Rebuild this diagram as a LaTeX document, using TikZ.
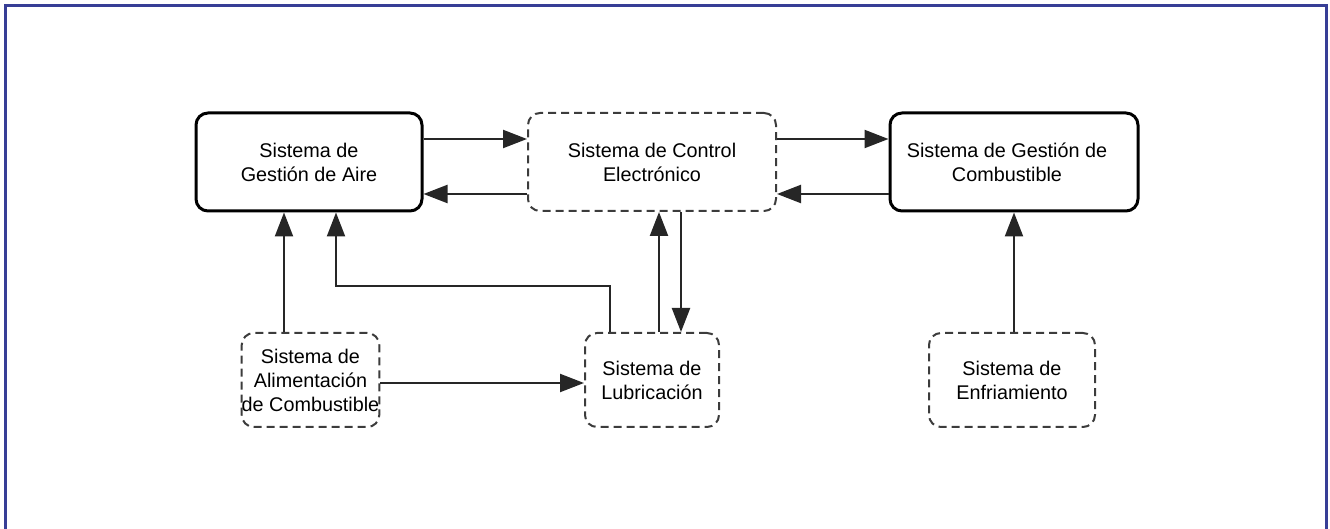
\documentclass[tikz,border=0pt]{standalone}
\usepackage{fontspec}
\setmainfont{Liberation Sans}
\usetikzlibrary{arrows.meta}
\definecolor{frameblue}{RGB}{55,62,150}
\definecolor{dashgray}{RGB}{60,60,60}
\begin{document}
\begin{tikzpicture}[x=0.5pt,y=-0.5pt,
  boxtext/.style={align=center,inner sep=0pt,font=\fontsize{9.9}{12}\selectfont},
  solidbox/.style={boxtext,draw=black,line width=1.5pt,rounded corners=6pt},
  dashbox/.style={boxtext,draw=dashgray,line width=1pt,dash pattern=on 4pt off 2.5pt,rounded corners=6pt},
  arr/.style={draw=black!85,line width=1.1pt,-{Triangle[length=12pt,width=9pt]}}]
\useasboundingbox (0,0) rectangle (1330,529);
\draw[frameblue,line width=1.5pt] (5.5,529) -- (5.5,6) -- (1326,6) -- (1326,529);

\node[solidbox,minimum width=113pt,minimum height=49pt] (aire) at (309,162) {Sistema de\\Gestión de Aire};
\node[dashbox,minimum width=124pt,minimum height=49pt] (ctrl) at (652,162) {Sistema de Control\\Electrónico};
\node[solidbox,minimum width=124pt,minimum height=49pt] (comb) at (1014,162) {Sistema de Gestión de\hspace*{7pt}\\Combustible\hspace*{7pt}};
\node[dashbox,minimum width=67.5pt,minimum height=47pt] (alim) at (310.5,380) {Sistema de\\Alimentación\\de Combustible};
\node[dashbox,minimum width=67pt,minimum height=47pt] (lub) at (652,380) {Sistema de\\Lubricación};
\node[dashbox,minimum width=83pt,minimum height=47pt] (enfr) at (1012,380) {Sistema de\\Enfriamiento};

\coordinate (ya) at (0,139);
\coordinate (yb) at (0,194);
\coordinate (yc) at (0,383);
\coordinate (xa) at (284,0);
\coordinate (xb) at (659,0);
\coordinate (xc) at (681,0);
\coordinate (xd) at (1014,0);
\coordinate (bend1) at (610,286);
\coordinate (bend2) at (336,286);

\draw[arr] (aire.east |- ya) -- (ctrl.west |- ya);
\draw[arr] (ctrl.west |- yb) -- (aire.east |- yb);
\draw[arr] (ctrl.east |- ya) -- (comb.west |- ya);
\draw[arr] (comb.west |- yb) -- (ctrl.east |- yb);
\draw[arr] (xa |- alim.north) -- (xa |- aire.south);
\draw[arr] (bend1 |- lub.north) -- (bend1) -- (bend2) -- (bend2 |- aire.south);
\draw[arr] (xb |- lub.north) -- (xb |- ctrl.south);
\draw[arr] (xc |- ctrl.south) -- (xc |- lub.north);
\draw[arr] (alim.east |- yc) -- (lub.west |- yc);
\draw[arr] (xd |- enfr.north) -- (xd |- comb.south);
\end{tikzpicture}
\end{document}
